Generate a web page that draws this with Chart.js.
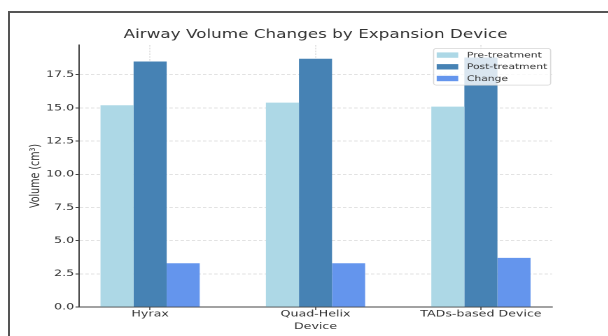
<!DOCTYPE html>
<html>
<head>
<meta charset="utf-8">
<script src="https://cdn.jsdelivr.net/npm/chart.js@4/dist/chart.umd.min.js"></script>
<style>
  html, body { margin: 0; padding: 0; background: #ffffff; }
  body { width: 608px; height: 336px; position: relative; overflow: hidden; }
  #wrap { position: absolute; left: 0; top: 0; height: 336px; transform-origin: 0 0; }
  #frame { position: absolute; left: 8px; top: 11px; right: -4px; bottom: -4px;
           border-top: 2px solid #555; border-left: 2px solid #555; pointer-events: none; }
</style>
</head>
<body>
<div id="wrap"><canvas id="chart"></canvas></div>
<div id="frame"></div>
<script>
// Airway volume (cm³) before and after treatment, per expansion device
const devices = ['Hyrax', 'Quad-Helix', 'TADs-based Device'];
const preTreatment = [15.2, 15.4, 15.1];
const postTreatment = [18.5, 18.7, 18.8];
const volumeChange = [3.3, 3.3, 3.7];
const yTickValues = [0, 2.5, 5, 7.5, 10, 12.5, 15, 17.5];

const seriesNames = ['Pre-treatment', 'Post-treatment', 'Change'];
const seriesColors = ['#ADD8E6', '#4682B4', '#6495ED'];

// the figure is drawn on a narrower canvas and widened horizontally
const SX = 1.4;
const W = 608 / SX;
const wrap = document.getElementById('wrap');
wrap.style.width = W + 'px';
wrap.style.transform = 'scaleX(' + SX + ')';

const FONT = '"DejaVu Sans", "Liberation Sans", sans-serif';
const TEXT = '#333333';

// x range with 5% margins around the grouped bars (each bar 0.2 wide)
const xLo = -0.3, xHi = devices.length - 1 + 0.3;
const xPad = (xHi - xLo) * 0.05;
const yMax = Math.max(...postTreatment, ...preTreatment, ...volumeChange) * 1.05;

const toPoints = arr => arr.map((v, i) => ({ x: i, y: v }));

// legend box drawn inside the plot, upper right
const plotLegend = {
  id: 'plotLegend',
  afterDraw(chart) {
    const ctx = chart.ctx, area = chart.chartArea;
    const F = 7.7;
    ctx.save();
    ctx.font = F + 'px ' + FONT;
    const items = chart.data.datasets.map(d => ({ text: d.label, color: d.backgroundColor }));
    const textW = Math.max(...items.map(it => ctx.measureText(it.text).width));
    const padL = 2.2, handleW = 2 * F, gap = 0.8 * F, padR = 2.4;
    const pitch = 11.7, padV = 6.6;
    const w = padL + handleW + gap + textW + padR;
    const h = padV * 2 + pitch * (items.length - 1);
    const right = area.right - 1, top = area.top + 3.5, left = right - w;
    ctx.beginPath();
    ctx.roundRect(left, top, w, h, 2);
    ctx.fillStyle = 'rgba(255,255,255,0.8)';
    ctx.fill();
    ctx.lineWidth = 0.8;
    ctx.strokeStyle = '#d6d6d6';
    ctx.stroke();
    ctx.textBaseline = 'middle';
    ctx.textAlign = 'left';
    items.forEach((it, i) => {
      const cy = top + padV + i * pitch;
      ctx.fillStyle = it.color;
      ctx.fillRect(left + padL, cy - 0.35 * F, handleW, 0.7 * F);
      ctx.fillStyle = TEXT;
      ctx.fillText(it.text, left + padL + handleW + gap, cy + 0.3);
    });
    ctx.restore();
  }
};

const gridColor = 'rgba(180,180,180,0.5)';

new Chart(document.getElementById('chart'), {
  type: 'bar',
  data: {
    datasets: [
      { label: seriesNames[0], data: toPoints(preTreatment), backgroundColor: seriesColors[0] },
      { label: seriesNames[1], data: toPoints(postTreatment), backgroundColor: seriesColors[1] },
      { label: seriesNames[2], data: toPoints(volumeChange), backgroundColor: seriesColors[2] }
    ]
  },
  options: {
    responsive: true,
    maintainAspectRatio: false,
    animation: false,
    devicePixelRatio: 2,
    categoryPercentage: 0.6,
    barPercentage: 1.0,
    layout: { padding: { left: 0, right: W - 552 / SX, top: 0, bottom: 0 } },
    plugins: {
      legend: { display: false },
      tooltip: { enabled: false },
      title: {
        display: true,
        text: 'Airway Volume Changes by Expansion Device',
        fullSize: false,
        align: 'center',
        color: TEXT,
        font: { family: FONT, size: 12, weight: 'normal' },
        padding: { top: 27.8, bottom: 2.8 }
      }
    },
    scales: {
      x: {
        type: 'linear',
        min: xLo - xPad,
        max: xHi + xPad,
        offset: false,
        z: 1,
        afterFit(scale) { scale.height = 29; },
        afterBuildTicks(scale) { scale.ticks = devices.map((_, i) => ({ value: i })); },
        grid: { display: true, offset: false, color: gridColor, lineWidth: 0.7,
                drawTicks: true, tickLength: 3, tickColor: '#444', tickWidth: 0.8 },
        border: { display: true, color: '#444', width: 1, dash: [1.6, 1.2] },
        ticks: {
          autoSkip: false, maxRotation: 0, padding: -1, color: TEXT,
          font: { family: FONT, size: 9 },
          callback: v => devices[v]
        },
        title: { display: true, text: 'Device', color: TEXT,
                 font: { family: FONT, size: 9 }, padding: { top: 0, bottom: 3.7 } }
      },
      y: {
        type: 'linear',
        min: 0,
        max: yMax,
        z: 1,
        afterFit(scale) { scale.width = 79 / SX; },
        afterBuildTicks(scale) { scale.ticks = yTickValues.map(v => ({ value: v })); },
        grid: { display: true, color: ctx => (ctx.tick && ctx.tick.value === 0) ? 'rgba(0,0,0,0)' : gridColor,
                lineWidth: 0.8, drawTicks: true, tickLength: 2.5, tickColor: '#444', tickWidth: 1 },
        border: { display: true, color: '#444', width: 1, dash: [2.4, 1.6] },
        ticks: {
          padding: 1, color: TEXT,
          font: { family: FONT, size: 9 },
          callback: v => v.toFixed(1)
        },
        title: { display: true, text: 'Volume (cm³)', color: TEXT,
                 font: { family: FONT, size: 9.5 }, padding: { top: 20, bottom: 0 } }
      }
    }
  },
  plugins: [plotLegend]
});
</script>
</body>
</html>
